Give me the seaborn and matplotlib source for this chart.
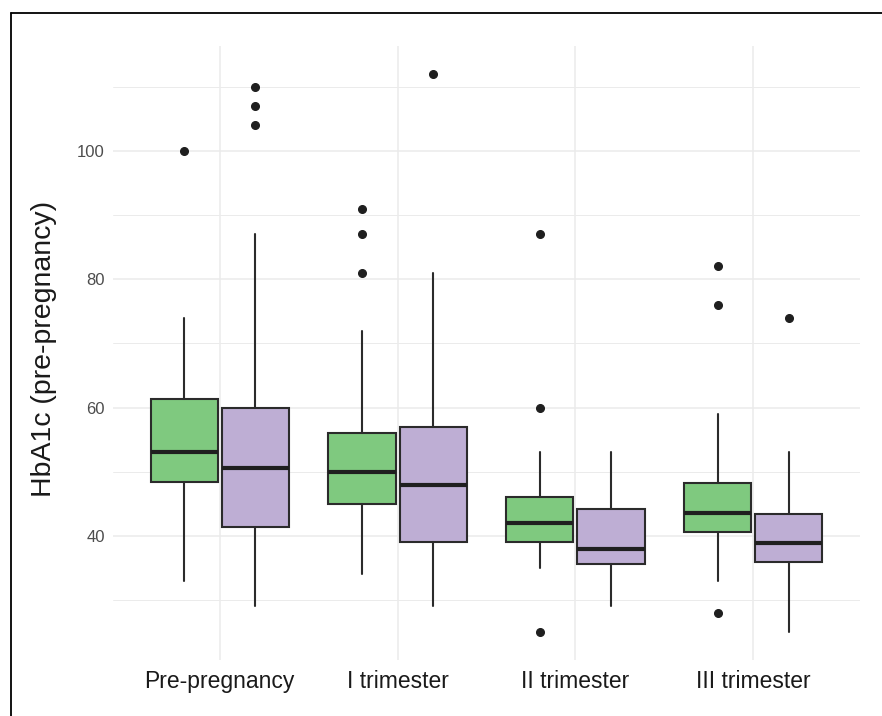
import numpy as np
import pandas as pd
import seaborn as sns
import matplotlib.pyplot as plt
from matplotlib.lines import Line2D

# values
categories = ["Pre-pregnancy", "I trimester", "II trimester", "III trimester"]
groups = ["group_1", "group_2"]
colors = ["#7FC97F", "#BEAED4"]

green_whislo = [33, 34, 35, 33]
green_q1 = [48.4, 45, 39, 40.6]
green_med = [53, 50, 42, 43.5]
green_q3 = [61.4, 56, 46, 48.2]
green_whishi = [74, 72, 53, 59]
green_outliers = [[100], [91, 87, 81], [87, 60, 25], [82, 76, 28]]

purple_whislo = [29, 29, 29, 25]
purple_q1 = [41.4, 39, 35.6, 35.9]
purple_med = [50.5, 48, 38, 38.9]
purple_q3 = [60, 57, 44.2, 43.4]
purple_whishi = [87, 81, 53, 53]
purple_outliers = [[110, 107, 104], [112], [], [74]]


def make_stats(whislo, q1, med, q3, whishi, outliers):
    return [dict(whislo=a, q1=b, med=c, q3=d, whishi=e, fliers=np.array(f))
            for a, b, c, d, e, f in zip(whislo, q1, med, q3, whishi, outliers)]


def main():
    sns.set_theme(style="whitegrid")
    plt.rcParams['font.family'] = ['Liberation Sans', 'DejaVu Sans']

    fig = plt.figure(figsize=(8.82, 7.16), dpi=100)
    ax = fig.add_axes([113 / 882, 1 - 660 / 716, 747 / 882, 614 / 716])
    ax.set_facecolor("white")

    stats = [
        make_stats(green_whislo, green_q1, green_med, green_q3, green_whishi, green_outliers),
        make_stats(purple_whislo, purple_q1, purple_med, purple_q3, purple_whishi, purple_outliers),
    ]
    x = np.arange(len(categories))
    offsets = [-0.2, 0.2]
    for st, col, off in zip(stats, colors, offsets):
        ax.bxp(
            st, positions=x + off, widths=0.378, patch_artist=True, showcaps=False,
            boxprops=dict(facecolor=col, edgecolor="#2b2b2b", linewidth=1.5),
            medianprops=dict(color="#1f1f1f", linewidth=3.0),
            whiskerprops=dict(color="#2b2b2b", linewidth=1.5),
            flierprops=dict(marker="o", markerfacecolor="#1f1f1f",
                            markeredgecolor="#1f1f1f", markersize=5.5),
            manage_ticks=False, zorder=3,
        )

    all_vals = (green_whislo + purple_whislo + green_whishi + purple_whishi
                + sum(green_outliers, []) + sum(purple_outliers, []))
    lo, hi = min(all_vals), max(all_vals)
    pad = (hi - lo) * 0.05
    ax.set_ylim(lo - pad, hi + pad)
    ax.set_xlim(-0.6, len(categories) - 0.4)

    ax.set_yticks([40, 60, 80, 100])
    ax.set_yticks([30, 50, 70, 90, 110], minor=True)
    ax.set_xticks(x)
    ax.set_xticklabels(categories)
    ax.grid(False)
    ax.grid(True, which="major", axis="both", color="#EBEBEB", linewidth=1.1, zorder=0)
    ax.grid(True, which="minor", axis="y", color="#EBEBEB", linewidth=0.7, zorder=0)
    ax.set_axisbelow(True)
    for s in ax.spines.values():
        s.set_visible(False)
    ax.tick_params(axis="y", which="both", length=0, pad=6, labelsize=12, labelcolor="#4D4D4D")
    ax.tick_params(axis="x", which="both", length=0, pad=7, labelsize=16.5, labelcolor="#1a1a1a")

    ax.set_ylabel("HbA1c (pre-pregnancy)", fontsize=20.5, color="#1a1a1a")
    ax.yaxis.set_label_coords(-0.075, 0.507)
    ax.set_xlabel("")

    # outer frame (top and left edges visible in the reference)
    fig.add_artist(Line2D([11 / 882, 11 / 882], [0, 1 - 13 / 716], color="black",
                          linewidth=1.3, transform=fig.transFigure))
    fig.add_artist(Line2D([11 / 882, 1], [1 - 13 / 716, 1 - 13 / 716], color="black",
                          linewidth=1.3, transform=fig.transFigure))

    fig.savefig("out.png", dpi=100)
    plt.close(fig)


if __name__ == "__main__":
    main()
